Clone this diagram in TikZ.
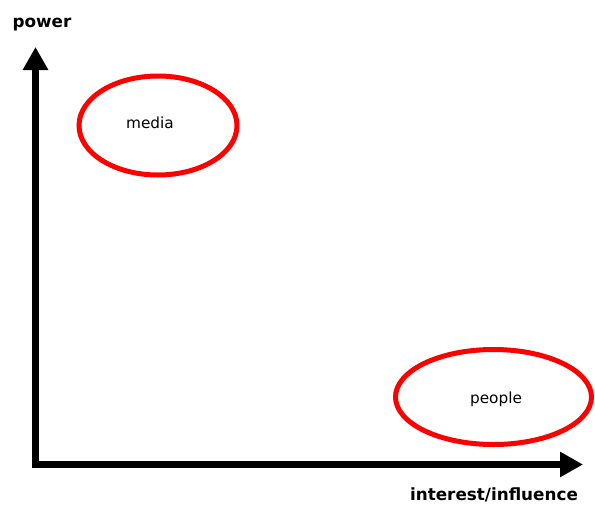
\documentclass[tikz,border=0pt]{standalone}
\usepackage{fontspec}
\setmainfont{DejaVu Sans}
\usetikzlibrary{arrows.meta}

\begin{document}
\begin{tikzpicture}[
x=1pt,
y=-1pt,
axis/.style={
  draw=black,
  line width=7.5pt,
  line join=miter,
  },
group/.style={
  draw=red,
  line width=5pt,
  },
label/.style={
  font=\fontsize{15.3}{18}\selectfont,
  anchor=base,
  inner sep=0pt
  },
title/.style={
  font=\bfseries\fontsize{16.8}{20}\selectfont,
  anchor=base,
  inner sep=0pt
  },
>={Triangle[length=23pt,width=24pt]}
]
\useasboundingbox (0,0) rectangle (595,504);

% axes
\coordinate (origin) at (35.5,464.5);
\coordinate (ytip) at (35.5,47);
\coordinate (xtip) at (583,464.5);
\draw[axis,<->] (ytip) -- (origin) -- (xtip);

\node[title] (power) at (42,27.5) {power};
\node[title] (interest) at (494,500) {interest/influence};

% the two groups
\draw[group] (158,125.5) ellipse [x radius=79, y radius=49.5];
\node[label] (media) at (150,128) {media};

\draw[group] (493.5,397) ellipse [x radius=98, y radius=47.5];
\node[label] (people) at (496,403) {people};

\end{tikzpicture}
\end{document}
